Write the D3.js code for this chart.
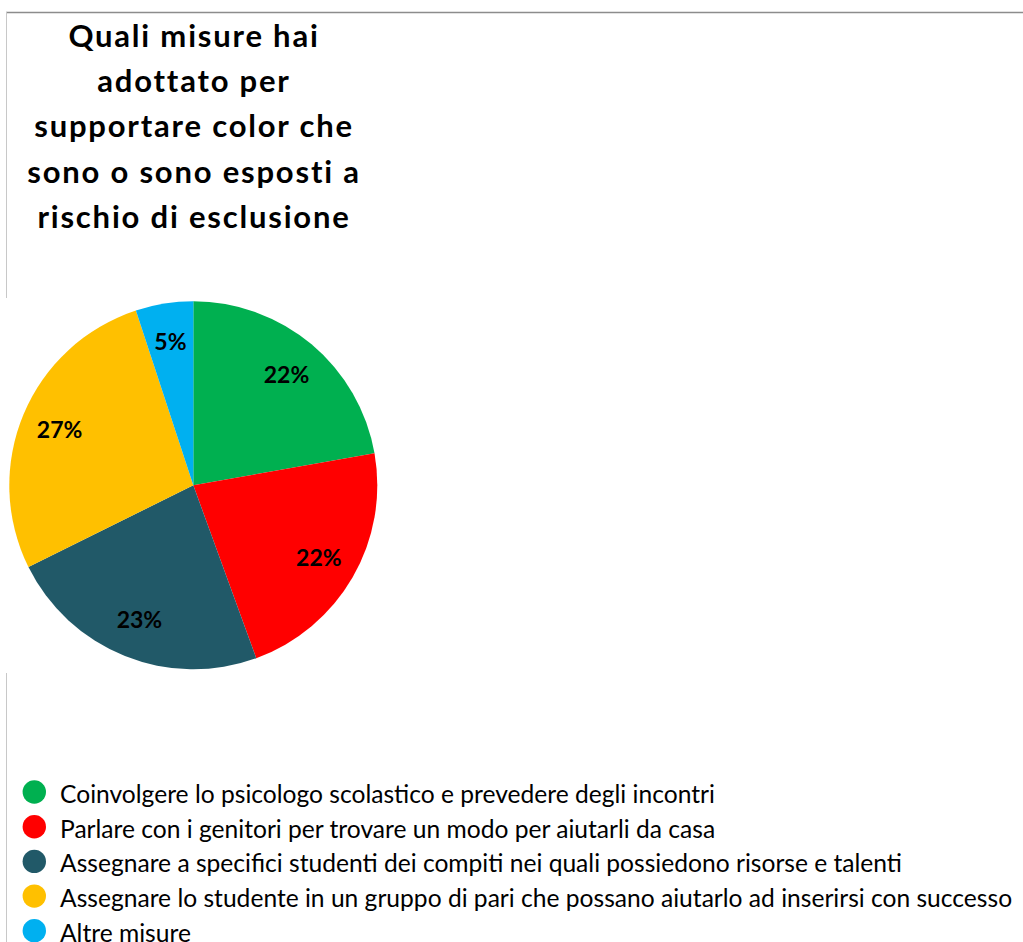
<!DOCTYPE html>
<html>
<head>
<meta charset="utf-8">
<script src="https://cdn.jsdelivr.net/npm/d3@7"></script>
<style>
  html, body { margin: 0; padding: 0; background: #fff; }
  svg { display: block; }
</style>
</head>
<body>
<svg id="chart" width="1023" height="942"></svg>
<script>
// Survey answers and their shares (percent)
const categories = [
  "Coinvolgere lo psicologo scolastico e prevedere degli incontri",
  "Parlare con i genitori per trovare un modo per aiutarli da casa",
  "Assegnare a specifici studenti dei compiti nei quali possiedono risorse e talenti",
  "Assegnare lo studente in un gruppo di pari che possano aiutarlo ad inserirsi con successo",
  "Altre misure"
];
const values = [22, 22, 23, 27, 5];
const colors = ["#00b050", "#ff0000", "#215968", "#ffc000", "#00b0f0"];
const titleLines = [
  "Quali misure hai",
  "adottato per",
  "supportare color che",
  "sono o sono esposti a",
  "rischio di esclusione"
];

const FONT = "Lato, 'Open Sans', sans-serif";
const svg = d3.select("#chart");

// frame lines
svg.append("line").attr("x1", 6).attr("x2", 1023).attr("y1", 12.5).attr("y2", 12.5)
  .attr("stroke", "#8c8c8c").attr("stroke-width", 1.5);
svg.append("line").attr("x1", 6.5).attr("x2", 6.5).attr("y1", 12).attr("y2", 298)
  .attr("stroke", "#c8c8c8").attr("stroke-width", 1);
svg.append("line").attr("x1", 6.5).attr("x2", 6.5).attr("y1", 673).attr("y2", 942)
  .attr("stroke", "#c8c8c8").attr("stroke-width", 1);

// title
const title = svg.append("text")
  .attr("text-anchor", "middle")
  .attr("font-family", FONT)
  .attr("font-weight", "bold")
  .attr("font-size", 31)
  .attr("letter-spacing", 1.8)
  .attr("fill", "#000");
titleLines.forEach((t, i) => {
  title.append("tspan").attr("x", 194).attr("y", 46.7 + i * 45.3).text(t);
});

// pie
const cx = 193.3, cy = 485.3, radius = 184;
const pie = d3.pie().sort(null).value(d => d);
const arc = d3.arc().innerRadius(0).outerRadius(radius);
const labelArc = d3.arc().innerRadius(145).outerRadius(145);

const g = svg.append("g").attr("transform", `translate(${cx},${cy})`);
const arcs = pie(values);
g.selectAll("path.slice").data(arcs).join("path")
  .attr("class", "slice")
  .attr("d", arc)
  .attr("fill", (d, i) => colors[i]);

g.selectAll("text.pct").data(arcs).join("text")
  .attr("class", "pct")
  .attr("transform", d => `translate(${labelArc.centroid(d)})`)
  .attr("text-anchor", "middle")
  .attr("dy", "0.36em")
  .attr("font-family", FONT)
  .attr("font-weight", "bold")
  .attr("font-size", 23)
  .attr("fill", "#000")
  .text(d => d.data + "%");

// legend
const legendY = d3.scaleBand().domain(d3.range(categories.length)).range([774.65, 948.15]);
const legend = svg.append("g");
const rows = legend.selectAll("g").data(categories).join("g")
  .attr("transform", (d, i) => `translate(0,${legendY(i) + legendY.bandwidth() / 2})`);
rows.append("circle").attr("cx", 34.3).attr("cy", 0).attr("r", 11.7)
  .attr("fill", (d, i) => colors[i]);
rows.append("text")
  .attr("x", 60)
  .attr("y", 11)
  .attr("font-family", FONT)
  .attr("font-size", 24.6)
  .attr("fill", "#000")
  .text(d => d);
</script>
</body>
</html>
